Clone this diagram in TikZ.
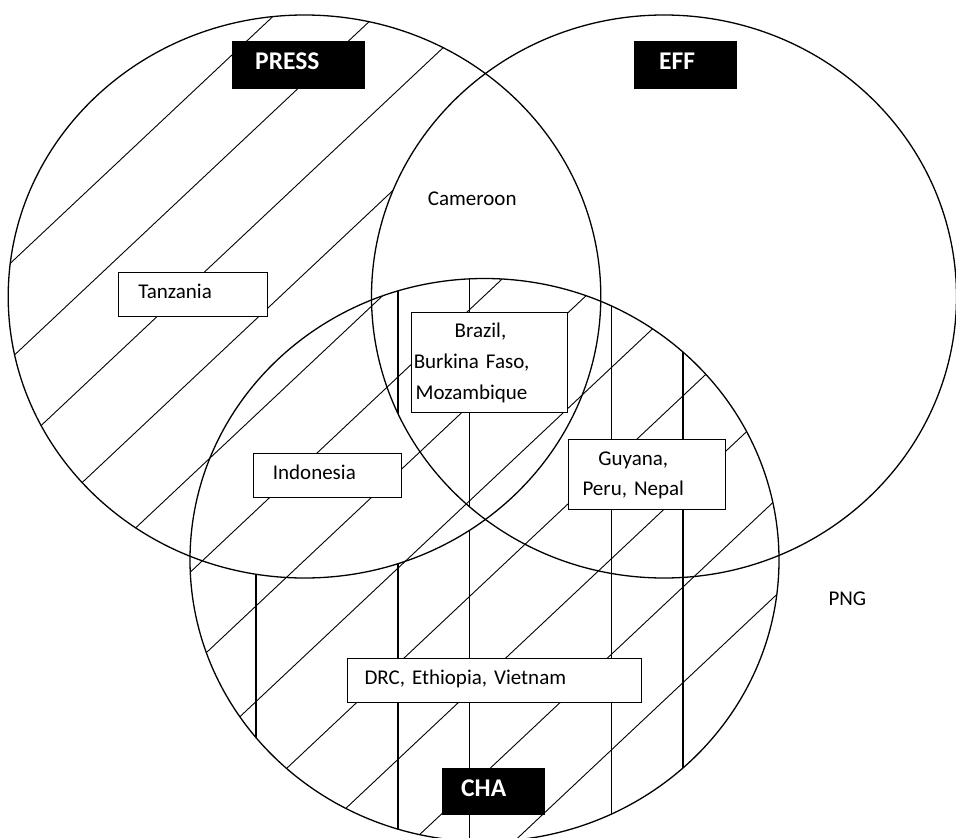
\documentclass[tikz,border=0pt]{standalone}
\usepackage{fontspec}
\setmainfont{Carlito}
\usepackage{tikz}
\frenchspacing

\begin{document}
\begin{tikzpicture}[x=1pt, y=-1pt,
  set/.style={line width=1.3pt},
  hatch/.style={line width=0.9pt},
  vbar/.style={line width=1.2pt},
  cbox/.style={draw, fill=white, line width=1.1pt, anchor=west, align=left, inner ysep=0pt, font=\fontsize{21}{30}\selectfont},
  onebox/.style={cbox, minimum height=44pt, text height=14pt, text depth=6pt},
  tag/.style={fill=black, draw=black, text=white, anchor=west, align=left, minimum height=47pt, inner ysep=0pt, text height=18pt, text depth=8.4pt, font=\bfseries\fontsize{25.5}{30}\selectfont},
  txt/.style={anchor=base west, inner sep=0pt, font=\fontsize{21}{25}\selectfont}]
\useasboundingbox (0, 0) rectangle (956, 838);
\coordinate (press) at (304.5, 296.5);
\coordinate (eff) at (664, 296.5);
\coordinate (cha) at (484.5, 560);

% vertical bars inside CHA
\begin{scope}
\clip (cha) ellipse [x radius=294.5, y radius=281.5];
\draw [vbar] (256, 0) -- (256, 838);
\draw [vbar] (398, 0) -- (398, 838);
\draw [vbar] (469.5, 0) -- (469.5, 838);
\draw [vbar] (611.5, 0) -- (611.5, 838);
\draw [vbar] (683, 0) -- (683, 838);
\end{scope}
\begin{scope}
\clip (cha) ellipse [x radius=294.5, y radius=281.5];
\clip (press) ellipse [x radius=296.3, y radius=281.5];
\fill [white, even odd rule] (press) ellipse [x radius=296.3, y radius=281.5] (eff) ellipse [x radius=292.5, y radius=281.5];
\end{scope}

% diagonal hatching in PRESS and CHA
\begin{scope}
\clip (press) ellipse [x radius=296.3, y radius=281.5] (cha) ellipse [x radius=294.5, y radius=281.5];
\draw [hatch] (0, 273) -- (956, -625.6);
\draw [hatch] (0, 368.6) -- (956, -530);
\draw [hatch] (0, 464.2) -- (956, -434.4);
\draw [hatch] (0, 559.8) -- (956, -338.8);
\draw [hatch] (0, 655.4) -- (956, -243.2);
\draw [hatch] (0, 751) -- (956, -147.6);
\draw [hatch] (0, 846.6) -- (956, -52);
\draw [hatch] (0, 942.2) -- (956, 43.6);
\draw [hatch] (0, 1037.8) -- (956, 139.2);
\draw [hatch] (0, 1133.4) -- (956, 234.8);
\draw [hatch] (0, 1229) -- (956, 330.4);
\draw [hatch] (0, 1324.6) -- (956, 426);
\end{scope}
\begin{scope}
\clip (eff) ellipse [x radius=292.5, y radius=281.5];
\fill [white, even odd rule] (eff) ellipse [x radius=292.5, y radius=281.5] (cha) ellipse [x radius=294.5, y radius=281.5];
\end{scope}

% the three sets
\draw [set] (press) ellipse [x radius=296.3, y radius=281.5];
\draw [set] (eff) ellipse [x radius=292.5, y radius=281.5];
\draw [set] (cha) ellipse [x radius=294.5, y radius=281.5];

\node [tag, inner xsep=23.3pt, text width=85.7pt] (pressTag) at (231.7, 64.5) {PRESS};
\node [tag, inner xsep=25.3pt, text width=52pt] (effTag) at (633.7, 64.5) {EFF};
\node [tag, inner xsep=19.3pt, text width=63.7pt, minimum height=46pt] (chaTag) at (441.7, 791.4) {CHA};

\node [onebox, inner xsep=19.4pt, text width=109.6pt] (tza) at (118.3, 294.9) {Tanzania};
\node [onebox, inner xsep=19.6pt, text width=108.8pt] (idn) at (252.7, 475.3) {Indonesia};
\node [onebox, inner xsep=16.7pt, text width=260.6pt] (drc) at (347.3, 680.3) {DRC, Ethiopia, Vietnam};
\node [cbox, inner xsep=2.5pt, text width=151pt, minimum height=100pt, font=\fontsize{21}{31}\selectfont] (bra) at (410.7, 362.7) {\begin{tabular}{@{}c@{}}\hspace*{18pt}Brazil,\\Burkina Faso,\\Mozambique\end{tabular}};
\node [cbox, inner xsep=14pt, text width=128.7pt, minimum height=69.7pt] (guy) at (568, 474.2) {\raisebox{3pt}{\begin{tabular}{@{}c@{}}Guyana,\\Peru, Nepal\end{tabular}}};

\node [txt] (cmr) at (427.7, 205) {Cameroon};
\node [txt] (png) at (828.3, 605) {PNG};
\end{tikzpicture}
\end{document}
